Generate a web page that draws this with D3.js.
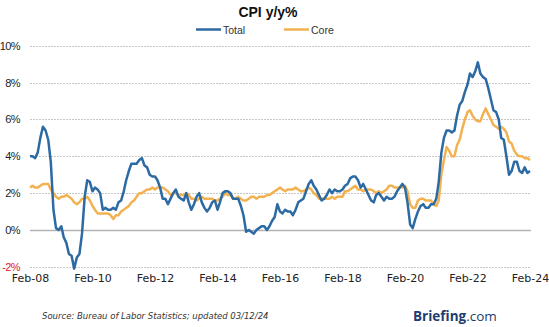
<!DOCTYPE html>
<html><head><meta charset="utf-8">
<script src="https://cdn.jsdelivr.net/npm/d3@7"></script>
<style>body{margin:0;background:#fff}svg{display:block}</style>
</head><body><svg id="c" width="549" height="327"></svg>
<script>
const startMonth = "2008-02";
const totalCPI = [
4.0,4.0,3.9,4.2,5.0,5.6,5.4,4.9,3.7,1.1,0.1,
0.0,0.2,-0.4,-0.7,-1.3,-1.4,-2.1,-1.5,-1.3,-0.2,1.8,2.7,
2.6,2.1,2.3,2.2,2.0,1.1,1.2,1.1,1.1,1.2,1.1,1.5,
1.6,2.1,2.7,3.2,3.6,3.6,3.6,3.8,3.9,3.5,3.4,3.0,
2.9,2.9,2.7,2.3,1.7,1.7,1.4,1.7,2.0,2.2,1.8,1.7,
1.6,2.0,1.5,1.1,1.4,1.8,2.0,1.5,1.2,1.0,1.2,1.5,
1.6,1.1,1.5,2.0,2.1,2.1,2.0,1.7,1.7,1.7,1.3,0.8,
-0.1,0.0,-0.1,-0.2,0.0,0.1,0.2,0.2,0.0,0.2,0.5,0.7,
1.4,1.0,0.9,1.1,1.0,1.0,0.8,1.1,1.5,1.6,1.7,2.1,
2.5,2.7,2.4,2.2,1.9,1.6,1.7,1.9,2.2,2.0,2.2,2.1,
2.1,2.2,2.4,2.5,2.8,2.9,2.9,2.7,2.3,2.5,2.2,1.9,
1.6,1.5,1.9,2.0,1.8,1.6,1.8,1.7,1.7,1.8,2.1,2.3,
2.5,2.3,1.5,0.3,0.1,0.6,1.0,1.3,1.4,1.2,1.2,1.4,
1.4,1.7,2.6,4.2,5.0,5.4,5.4,5.3,5.4,6.2,6.8,7.0,
7.5,7.9,8.5,8.3,8.6,9.1,8.5,8.3,8.2,7.7,7.1,6.5,
6.4,6.0,5.0,4.9,4.0,3.0,3.2,3.7,3.7,3.2,3.1,3.4,
3.1,3.2];
const coreCPI = [
2.3,2.4,2.3,2.3,2.4,2.5,2.5,2.5,2.2,2.0,1.8,
1.7,1.8,1.8,1.9,1.8,1.7,1.5,1.4,1.5,1.7,1.7,1.8,
1.6,1.3,1.1,0.9,0.9,0.9,0.9,0.9,0.8,0.6,0.8,0.8,
1.0,1.1,1.2,1.3,1.5,1.6,1.8,2.0,2.0,2.1,2.2,2.2,
2.3,2.2,2.3,2.3,2.3,2.2,2.1,1.9,2.0,2.0,1.9,1.9,
1.9,2.0,1.9,1.7,1.7,1.6,1.7,1.8,1.7,1.7,1.7,1.7,
1.6,1.6,1.7,1.8,2.0,1.9,1.9,1.7,1.7,1.8,1.7,1.6,
1.6,1.7,1.8,1.8,1.7,1.8,1.8,1.8,1.9,1.9,2.0,2.1,
2.2,2.3,2.2,2.1,2.2,2.2,2.2,2.3,2.2,2.1,2.1,2.2,
2.3,2.2,2.0,1.9,1.7,1.7,1.7,1.7,1.7,1.8,1.7,1.8,
1.8,1.8,2.1,2.1,2.2,2.3,2.4,2.2,2.2,2.1,2.2,2.2,
2.2,2.1,2.0,2.1,2.0,2.1,2.2,2.4,2.4,2.3,2.3,2.3,
2.3,2.4,2.1,1.4,1.2,1.2,1.6,1.7,1.7,1.6,1.6,1.6,
1.4,1.3,1.6,3.0,3.8,4.5,4.3,4.0,4.0,4.6,4.9,5.5,
6.0,6.4,6.5,6.2,6.0,5.9,5.9,6.3,6.6,6.3,6.0,5.7,
5.6,5.5,5.6,5.5,5.3,4.8,4.7,4.3,4.1,4.0,4.0,3.9,
3.9,3.8];
const seriesNames = ["Total","Core"];
const seriesColors = ["#2c6aa3","#f2b251"];
const yTicks = [-2,0,2,4,6,8,10];
const xTickYears = [2008,2010,2012,2014,2016,2018,2020,2022,2024];

const svg = d3.select("#c");
const parse = d3.timeParse("%Y-%m");
const d0 = parse(startMonth);
const dates = totalCPI.map((_, i) => d3.timeMonth.offset(d0, i));

const x = d3.scaleTime().domain([d0, dates[dates.length-1]]).range([30, 530]);
const y = d3.scaleLinear().domain([-2, 10]).range([266.8, 45.8]);

// gridlines
const grid = svg.append("g");
yTicks.forEach(t => {
  grid.append("line").attr("x1", 30).attr("x2", 531)
    .attr("y1", Math.round(y(t)) + 0.5).attr("y2", Math.round(y(t)) + 0.5)
    .attr("stroke", t === 0 ? "#b3b3b3" : "#c8c8c8")
    .attr("stroke-width", t === 0 ? 1.5 : 1)
    .attr("stroke-dasharray", t === 0 ? null : "2,1");
});

// y axis labels
const yAxis = d3.axisLeft(y).tickValues(yTicks).tickSize(0).tickPadding(0)
  .tickFormat(d => d + "%");
const ya = svg.append("g").attr("transform", "translate(20,0)").call(yAxis);
ya.select(".domain").remove();
ya.selectAll("text").attr("font-family", "Liberation Sans, Arial, sans-serif")
  .attr("font-size", 11).attr("letter-spacing", "-0.6")
  .attr("fill", d => d < 0 ? "#e02020" : "#222");

// x axis labels
const xAxis = d3.axisBottom(x).tickValues(xTickYears.map(yr => new Date(yr, 1, 1)))
  .tickSize(0).tickPadding(0).tickFormat(d3.timeFormat("%b-%y"));
const xa = svg.append("g").attr("transform", "translate(0,274)").call(xAxis);
xa.select(".domain").remove();
xa.selectAll("text").attr("font-family", "DejaVu Sans, Verdana, sans-serif")
  .attr("font-size", 11).attr("fill", "#222");

// lines
const line = d3.line().x((d, i) => x(dates[i])).y(d => y(d)).curve(d3.curveLinear);
[totalCPI, coreCPI].reverse().forEach((s, k) => {
  svg.append("path").datum(s).attr("d", line).attr("fill", "none")
    .attr("stroke", seriesColors[1 - k]).attr("stroke-width", 2.5)
    .attr("stroke-linejoin", "round");
});

// title
svg.append("text").attr("x", 268).attr("y", 17).attr("text-anchor", "middle")
  .attr("font-family", "Liberation Sans, Arial, sans-serif").attr("font-weight", "bold")
  .attr("font-size", 14).attr("fill", "#111").text("CPI y/y%");

// legend
const legX = [196, 284];
seriesNames.forEach((n, i) => {
  svg.append("line").attr("x1", legX[i]).attr("x2", legX[i] + 25)
    .attr("y1", 29.5).attr("y2", 29.5).attr("stroke", seriesColors[i]).attr("stroke-width", 2.5);
  svg.append("text").attr("x", legX[i] + 27).attr("y", 33.5)
    .attr("font-family", "Liberation Sans, Arial, sans-serif").attr("font-size", 10.5)
    .attr("fill", "#333").text(n);
});

// source
svg.append("text").attr("x", 42).attr("y", 319)
  .attr("font-family", "DejaVu Sans, Verdana, sans-serif").attr("font-style", "italic")
  .attr("font-size", 8.5).attr("fill", "#333")
  .text("Source: Bureau of Labor Statistics; updated 03/12/24");

const b = svg.append("text").attr("x", 413).attr("y", 321)
  .attr("font-family", "Open Sans, DejaVu Sans, sans-serif").attr("font-size", 13.5).attr("fill", "#1d3d6e");
b.append("tspan").attr("font-weight", "bold").text("Briefing");
b.append("tspan").text(".com");
</script></body></html>
